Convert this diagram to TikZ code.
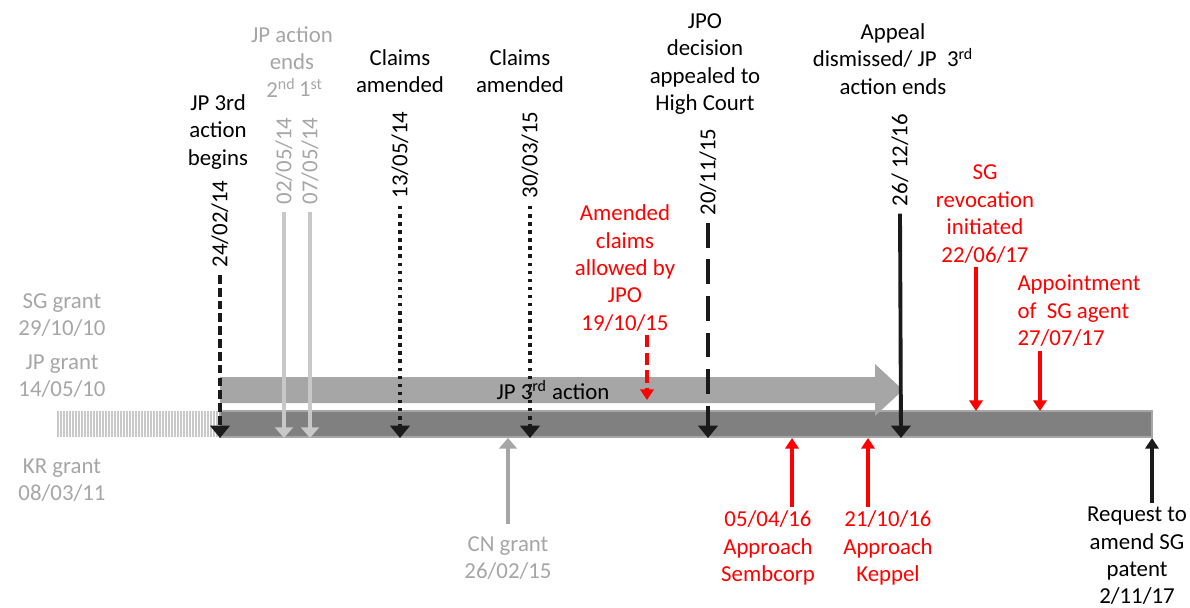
\documentclass[tikz,border=0pt]{standalone}
\usepackage{fontspec}
\setmainfont{Carlito}
\usetikzlibrary{arrows.meta}
\definecolor{bardark}{HTML}{808080}
\definecolor{barlight}{HTML}{A6A6A6}
\definecolor{greytxt}{HTML}{A6A6A6}
\definecolor{greyline}{HTML}{C8C8C8}
\definecolor{nearblack}{HTML}{1A1A1A}

\begin{document}
\begin{tikzpicture}[x=0.02cm,y=-0.02cm,
	lbl/.style={align=center,inner sep=2pt,font=\fontsize{13}{15.6}\selectfont},
	greylbl/.style={lbl,text=greytxt},
	redlbl/.style={lbl,text=red},
	datelbl/.style={lbl,rotate=90,inner sep=4pt},
	blackarrow/.style={nearblack,line width=2.2pt,-{Triangle[width=11pt,length=7pt]}},
	greyarrow/.style={greyline,line width=2pt,-{Triangle[width=10pt,length=6pt]}},
	redarrow/.style={red,line width=2.2pt,-{Triangle[width=7.5pt,length=6pt]}}]
	\useasboundingbox (0,0) rectangle (1190,608);
	\foreach \x in {58,61,...,217}
		\draw[greyline,line width=0.6pt] (\x,411) -- (\x,437);
	\filldraw[fill=bardark,draw=barlight,line width=0.6pt] (220,411) rectangle (1152,437);
	\fill[barlight] (220,377) -- (875,377) -- (875,364) -- (903,390) -- (875,416) -- (875,403) -- (220,403) -- cycle;
	\node[lbl] (jp3rd) at (553,390) {JP 3\textsuperscript{rd} action};
	
	\node[greylbl] (sggrant) at (62,315) {SG grant\\29/10/10};
	\node[greylbl] (jpgrant) at (62,376) {JP grant\\14/05/10};
	\node[greylbl] (krgrant) at (62,480) {KR grant\\08/03/11};
	
	\coordinate (b240214) at (220,438);
	\coordinate (b020514) at (284,438);
	\coordinate (b070514) at (310,438);
	\coordinate (b130514) at (400,438);
	\coordinate (b300315) at (530,438);
	\coordinate (b201115) at (708,438);
	\coordinate (b261216) at (901,438);
	
	\node[lbl] (begins) at (218,132) {JP 3rd\\action\\begins};
	\node[datelbl] (d240214) at (220,224) {24/02/14};
	\draw[blackarrow,dash pattern=on 5pt off 2.3pt] (d240214.west) -- (b240214);
	
	\node[greylbl] (jpends) at (292,48) {JP action\\ends};
	\node[greylbl] (second) at (281,88) {2\textsuperscript{nd}};
	\node[greylbl] (first) at (311,88) {1\textsuperscript{st}};
	\node[datelbl,text=greytxt] (d020514) at (284,161) {02/05/14};
	\node[datelbl,text=greytxt] (d070514) at (310,161) {07/05/14};
	\draw[greyarrow] (d020514.west) -- (b020514);
	\draw[greyarrow] (d070514.west) -- (b070514);
	
	\node[lbl] (amend1) at (400,71) {Claims\\amended};
	\node[datelbl] (d130514) at (400,155) {13/05/14};
	\draw[blackarrow,dash pattern=on 2pt off 2.6pt] (d130514.west) -- (b130514);
	\node[lbl] (amend2) at (520,71) {Claims\\amended};
	\node[datelbl] (d300315) at (530,155) {30/03/15};
	\draw[blackarrow,dash pattern=on 2pt off 2.6pt] (d300315.west) -- (b300315);
	
	\node[lbl] (appealed) at (705,64) {JPO\\decision\\appealed to\\High Court};
	\node[datelbl] (d201115) at (708,172) {20/11/15};
	\draw[blackarrow,dash pattern=on 14pt off 6.8pt] (d201115.west) -- (b201115);
	
	\node[lbl] (dismissed) at (893,59) {Appeal\\dismissed/ JP\ \ 3\textsuperscript{rd}\\action ends};
	\node[datelbl] (d261216) at (900,160) {26/ 12/16};
	\draw[blackarrow] (d261216.west) -- (b261216);
	
	\node[redlbl] (allowed) at (625,268) {Amended\\claims\\allowed by\\JPO\\19/10/15};
	\coordinate (b191015) at (647,400);
	\draw[redarrow,dash pattern=on 7pt off 3pt] (allowed.south -| b191015) -- (b191015);
	
	\node[redlbl] (sembcorp) at (768,548) {05/04/16\\Approach\\Sembcorp};
	\coordinate (b050416) at (792,438);
	\draw[redarrow] (sembcorp.north -| b050416) -- (b050416);
	\node[redlbl] (keppel) at (888,548) {21/10/16\\Approach\\Keppel};
	\coordinate (b211016) at (868,438);
	\draw[redarrow] (keppel.north -| b211016) -- (b211016);
	
	\node[redlbl] (revocation) at (985,214) {SG\\revocation\\initiated\\22/06/17};
	\coordinate (t220617) at (976,411);
	\draw[redarrow] (revocation.south -| t220617) -- (t220617);
	\node[redlbl,align=left] (agent) at (1079,311) {Appointment\\of\ \ SG agent\\27/07/17};
	\coordinate (t270717) at (1040,411);
	\draw[redarrow] (agent.south -| t270717) -- (t270717);
	
	\node[greylbl] (cngrant) at (508,558) {CN grant\\26/02/15};
	\coordinate (bcn) at (508,438);
	\draw[greyarrow,greytxt,line width=2pt] ([yshift=5pt]cngrant.north) -- (bcn);
	
	\node[lbl] (request) at (1137,556) {Request to\\amend SG\\patent\\2/11/17};
	\coordinate (bend) at (1152,438);
	\draw[blackarrow,-{Triangle[width=7.5pt,length=6pt]}] (request.north -| bend) -- (bend);
\end{tikzpicture}
\end{document}
